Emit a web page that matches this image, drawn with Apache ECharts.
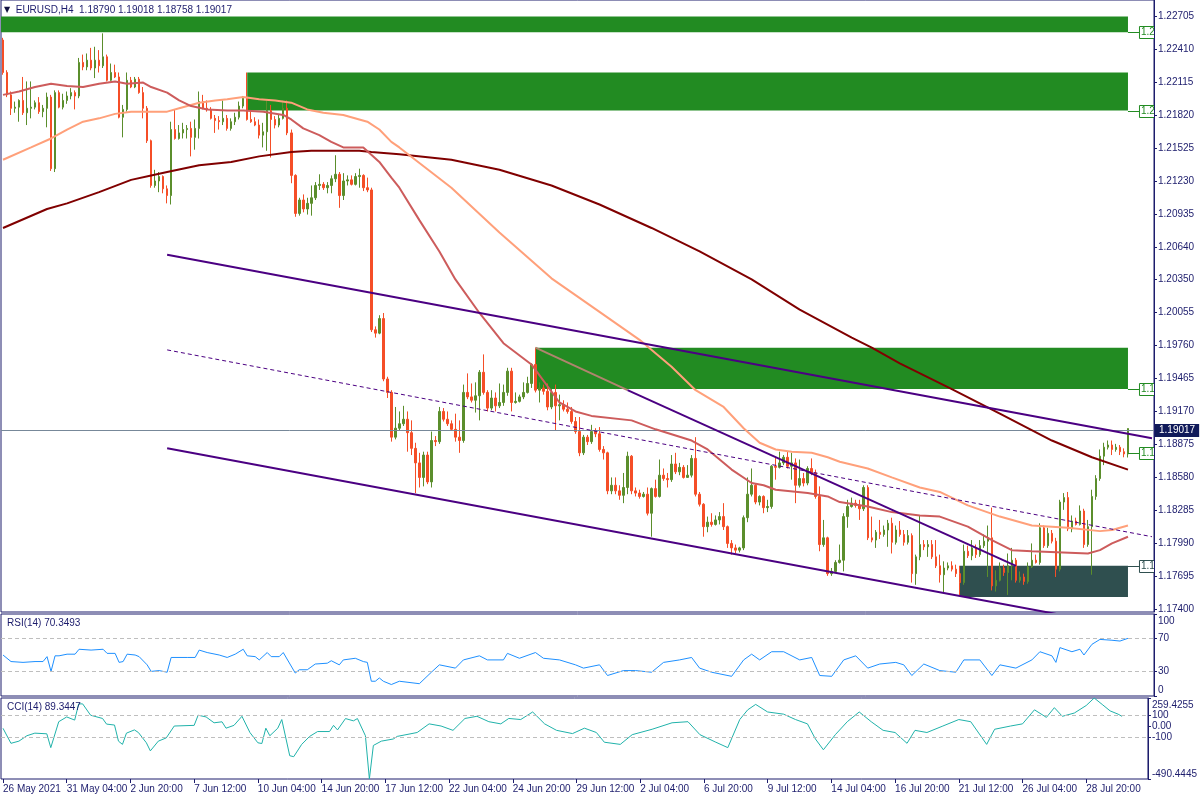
<!DOCTYPE html>
<html><head><meta charset="utf-8">
<script src="https://cdn.jsdelivr.net/npm/echarts@6/dist/echarts.min.js"></script>
<style>html,body{margin:0;padding:0;background:#fff}#c{width:1200px;height:800px}</style>
</head><body><div id="c"></div><script>
// ---------------- DATA ----------------
const symbolName = 'EURUSD,H4';
const tickLabels = ['26 May 2021','31 May 04:00','2 Jun 20:00','7 Jun 12:00','10 Jun 04:00','14 Jun 20:00','17 Jun 12:00','22 Jun 04:00','24 Jun 20:00','29 Jun 12:00','2 Jul 04:00','6 Jul 20:00','9 Jul 12:00','14 Jul 04:00','16 Jul 20:00','21 Jul 12:00','26 Jul 04:00','28 Jul 20:00'];
const priceTicks = [1.22705,1.22410,1.22115,1.21820,1.21525,1.21230,1.20935,1.20640,1.20350,1.20055,1.19760,1.19465,1.19170,1.18875,1.18580,1.18285,1.17990,1.17695,1.17400];

const opens = [
1.2249,1.2220,1.2200,1.2188,1.2189,1.2195,1.2184,1.2188,1.2189,1.2193,
1.2185,1.2188,1.2198,1.2134,1.2202,1.2189,1.2195,1.2199,1.2202,1.2199,
1.2229,1.2225,1.2231,1.2224,1.2231,1.2226,1.2234,1.2213,1.2220,1.2216,
1.2180,1.2187,1.2213,1.2207,1.2214,1.2202,1.2188,1.2159,1.2119,1.2123,
1.2127,1.2116,1.2110,1.2169,1.2161,1.2166,1.2169,1.2170,1.2162,1.2170,
1.2194,1.2188,1.2187,1.2179,1.2177,1.2176,1.2179,1.2170,1.2176,1.2180,
1.2190,1.2197,1.2178,1.2176,1.2173,1.2164,1.2167,1.2186,1.2178,1.2173,
1.2179,1.2188,1.2166,1.2128,1.2094,1.2106,1.2098,1.2103,1.2108,1.2119,
1.2120,1.2117,1.2119,1.2125,1.2129,1.2110,1.2123,1.2124,1.2120,1.2127,
1.2128,1.2117,1.2115,1.1990,1.1987,1.2000,1.1946,1.1934,1.1894,1.1902,
1.1906,1.1910,1.1898,1.1884,1.1871,1.1858,1.1878,1.1854,1.1891,1.1890,
1.1917,1.1910,1.1906,1.1901,1.1894,1.1891,1.1934,1.1930,1.1927,1.1931,
1.1952,1.1934,1.1920,1.1929,1.1922,1.1925,1.1934,1.1953,1.1925,1.1926,
1.1930,1.1934,1.1942,1.1959,1.1936,1.1938,1.1935,1.1921,1.1934,1.1922,
1.1923,1.1919,1.1917,1.1908,1.1899,1.1880,1.1894,1.1890,1.1899,1.1897,
1.1883,1.1880,1.1846,1.1851,1.1846,1.1842,1.1849,1.1877,1.1846,1.1844,
1.1841,1.1843,1.1826,1.1848,1.1841,1.1860,1.1857,1.1856,1.1870,1.1863,
1.1867,1.1858,1.1860,1.1875,1.1843,1.1834,1.1814,1.1818,1.1816,1.1820,
1.1823,1.1814,1.1799,1.1795,1.1793,1.1795,1.1822,1.1843,1.1851,1.1836,
1.1841,1.1831,1.1832,1.1868,1.1867,1.1871,1.1876,1.1868,1.1871,1.1851,
1.1857,1.1853,1.1866,1.1862,1.1841,1.1798,1.1804,1.1772,1.1774,1.1782,
1.1784,1.1823,1.1832,1.1835,1.1833,1.1830,1.1849,1.1804,1.1802,1.1809,
1.1807,1.1811,1.1817,1.1800,1.1811,1.1807,1.1800,1.1806,1.1772,1.1787,
1.1798,1.1796,1.1798,1.1787,1.1779,1.1771,1.1777,1.1779,1.1776,1.1772,
1.1764,1.1792,1.1788,1.1795,1.1789,1.1797,1.1801,1.1804,1.1761,1.1766,
1.1777,1.1773,1.1779,1.1784,1.1766,1.1769,1.1765,1.1778,1.1784,1.1782,
1.1813,1.1797,1.1808,1.1801,1.1776,1.1836,1.1840,1.1812,1.1819,1.1816,
1.1828,1.1798,1.1814,1.1841,1.1857,1.1877,1.1885,1.1887,1.1883,1.1885,
1.1881,1.18790];
const highs = [
1.2251,1.2222,1.2203,1.2194,1.2196,1.2216,1.2212,1.2212,1.2195,1.2198,
1.2191,1.2202,1.2200,1.2204,1.2204,1.2201,1.2203,1.2206,1.2204,1.2233,
1.2236,1.2237,1.2242,1.2243,1.2240,1.2255,1.2236,1.2228,1.2227,1.2220,
1.2191,1.2220,1.2216,1.2216,1.2216,1.2207,1.2190,1.2160,1.2133,1.2131,
1.2128,1.2119,1.2176,1.2187,1.2173,1.2175,1.2173,1.2176,1.2178,1.2203,
1.2200,1.2195,1.2189,1.2182,1.2181,1.2195,1.2182,1.2179,1.2184,1.2194,
1.2199,1.2220,1.2185,1.2180,1.2178,1.2175,1.2195,1.2191,1.2181,1.2182,
1.2195,1.2195,1.2169,1.2129,1.2108,1.2111,1.2108,1.2119,1.2122,1.2129,
1.2122,1.2122,1.2128,1.2146,1.2131,1.2130,1.2128,1.2128,1.2130,1.2134,
1.2129,1.2126,1.2117,1.1993,1.2003,1.2005,1.1948,1.1936,1.1921,1.1917,
1.1922,1.1917,1.1909,1.1889,1.1880,1.1881,1.1881,1.1899,1.1895,1.1921,
1.1920,1.1917,1.1909,1.1915,1.1909,1.1941,1.1951,1.1942,1.1943,1.1954,
1.1968,1.1936,1.1936,1.1934,1.1942,1.1941,1.1956,1.1956,1.1934,1.1932,
1.1943,1.1948,1.1960,1.1974,1.1943,1.1941,1.1942,1.1937,1.1941,1.1932,
1.1927,1.1925,1.1921,1.1912,1.1912,1.1896,1.1896,1.1905,1.1902,1.1903,
1.1886,1.1881,1.1858,1.1858,1.1851,1.1862,1.1881,1.1878,1.1849,1.1847,
1.1845,1.1849,1.1849,1.1856,1.1874,1.1866,1.1862,1.1878,1.1880,1.1871,
1.1869,1.1869,1.1878,1.1894,1.1845,1.1835,1.1823,1.1826,1.1824,1.1827,
1.1835,1.1815,1.1802,1.1798,1.1796,1.1824,1.1858,1.1866,1.1853,1.1842,
1.1842,1.1838,1.1869,1.1876,1.1881,1.1878,1.1881,1.1880,1.1875,1.1874,
1.1862,1.1868,1.1875,1.1865,1.1850,1.1820,1.1805,1.1777,1.1784,1.1798,
1.1826,1.1838,1.1840,1.1838,1.1838,1.1851,1.1851,1.1823,1.1811,1.1820,
1.1815,1.1820,1.1822,1.1815,1.1819,1.1811,1.1811,1.1808,1.1789,1.1824,
1.1802,1.1802,1.1802,1.1802,1.1789,1.1783,1.1782,1.1783,1.1780,1.1779,
1.1798,1.1797,1.1802,1.1798,1.1802,1.1807,1.1815,1.1831,1.1775,1.1782,
1.1780,1.1790,1.1795,1.1786,1.1774,1.1772,1.1782,1.1799,1.1789,1.1817,
1.1815,1.1813,1.1811,1.1804,1.1838,1.1844,1.1845,1.1824,1.1822,1.1833,
1.1830,1.1820,1.1847,1.1860,1.1883,1.1889,1.1891,1.1891,1.1888,1.1887,
1.1884,1.19018];
const lows = [
1.2218,1.2198,1.2182,1.2184,1.2176,1.2182,1.2173,1.2179,1.2187,1.2183,
1.2180,1.2171,1.2132,1.2131,1.2188,1.2187,1.2192,1.2196,1.2187,1.2197,
1.2222,1.2222,1.2222,1.2215,1.2220,1.2224,1.2212,1.2212,1.2215,1.2179,
1.2162,1.2185,1.2206,1.2206,1.2201,1.2179,1.2157,1.2117,1.2117,1.2113,
1.2112,1.2103,1.2102,1.2160,1.2160,1.2161,1.2161,1.2145,1.2151,1.2161,
1.2187,1.2185,1.2178,1.2166,1.2169,1.2173,1.2168,1.2168,1.2173,1.2178,
1.2188,1.2177,1.2175,1.2172,1.2161,1.2153,1.2150,1.2144,1.2170,1.2171,
1.2178,1.2164,1.2121,1.2091,1.2092,1.2095,1.2093,1.2092,1.2106,1.2115,
1.2115,1.2112,1.2112,1.2122,1.2099,1.2106,1.2119,1.2119,1.2119,1.2117,
1.2114,1.2113,1.1988,1.1983,1.1986,1.1944,1.1929,1.1890,1.1892,1.1900,
1.1904,1.1881,1.1878,1.1844,1.1849,1.1850,1.1852,1.1849,1.1886,1.1888,
1.1908,1.1904,1.1900,1.1890,1.1880,1.1889,1.1928,1.1925,1.1916,1.1909,
1.1932,1.1917,1.1918,1.1917,1.1920,1.1922,1.1931,1.1917,1.1924,1.1925,
1.1928,1.1933,1.1938,1.1934,1.1925,1.1932,1.1918,1.1919,1.1900,1.1909,
1.1917,1.1915,1.1906,1.1897,1.1877,1.1878,1.1887,1.1888,1.1894,1.1881,
1.1874,1.1843,1.1843,1.1843,1.1838,1.1835,1.1843,1.1843,1.1841,1.1839,
1.1840,1.1824,1.1805,1.1840,1.1840,1.1855,1.1849,1.1854,1.1861,1.1860,
1.1857,1.1858,1.1858,1.1841,1.1832,1.1805,1.1809,1.1814,1.1815,1.1816,
1.1811,1.1795,1.1789,1.1790,1.1791,1.1793,1.1818,1.1841,1.1834,1.1833,
1.1826,1.1827,1.1830,1.1856,1.1866,1.1869,1.1866,1.1856,1.1835,1.1849,
1.1850,1.1851,1.1860,1.1839,1.1792,1.1796,1.1770,1.1770,1.1773,1.1781,
1.1774,1.1813,1.1831,1.1831,1.1820,1.1828,1.1802,1.1800,1.1795,1.1803,
1.1805,1.1796,1.1790,1.1798,1.1805,1.1797,1.1798,1.1764,1.1762,1.1784,
1.1793,1.1787,1.1785,1.1777,1.1764,1.1755,1.1775,1.1774,1.1769,1.1752,
1.1762,1.1786,1.1784,1.1786,1.1787,1.1795,1.1769,1.1757,1.1756,1.1765,
1.1770,1.1753,1.1766,1.1764,1.1764,1.1762,1.1763,1.1777,1.1781,1.1780,
1.1795,1.1795,1.1799,1.1769,1.1774,1.1829,1.1810,1.1809,1.1815,1.1815,
1.1795,1.1796,1.1771,1.1838,1.1855,1.1869,1.1883,1.1878,1.1881,1.1878,
1.1876,1.18758];
const closes = [
1.2220,1.2200,1.2188,1.2189,1.2195,1.2184,1.2188,1.2189,1.2193,1.2185,
1.2188,1.2198,1.2134,1.2202,1.2189,1.2195,1.2199,1.2202,1.2199,1.2229,
1.2225,1.2231,1.2224,1.2231,1.2226,1.2234,1.2213,1.2220,1.2216,1.2180,
1.2187,1.2213,1.2207,1.2214,1.2202,1.2188,1.2159,1.2119,1.2123,1.2127,
1.2116,1.2110,1.2169,1.2161,1.2166,1.2169,1.2170,1.2162,1.2170,1.2194,
1.2188,1.2187,1.2179,1.2177,1.2176,1.2179,1.2170,1.2176,1.2180,1.2190,
1.2197,1.2178,1.2176,1.2173,1.2164,1.2167,1.2186,1.2178,1.2173,1.2179,
1.2188,1.2166,1.2128,1.2094,1.2106,1.2098,1.2103,1.2108,1.2119,1.2120,
1.2117,1.2119,1.2125,1.2129,1.2110,1.2123,1.2124,1.2120,1.2127,1.2128,
1.2117,1.2115,1.1990,1.1987,1.2000,1.1946,1.1934,1.1894,1.1902,1.1906,
1.1910,1.1898,1.1884,1.1871,1.1858,1.1878,1.1854,1.1891,1.1890,1.1917,
1.1910,1.1906,1.1901,1.1894,1.1891,1.1934,1.1930,1.1927,1.1931,1.1952,
1.1934,1.1920,1.1929,1.1922,1.1925,1.1934,1.1953,1.1925,1.1926,1.1930,
1.1934,1.1942,1.1959,1.1936,1.1938,1.1935,1.1921,1.1934,1.1922,1.1923,
1.1919,1.1917,1.1908,1.1899,1.1880,1.1894,1.1890,1.1899,1.1897,1.1883,
1.1880,1.1846,1.1851,1.1846,1.1842,1.1849,1.1877,1.1846,1.1844,1.1841,
1.1843,1.1826,1.1848,1.1841,1.1860,1.1857,1.1856,1.1870,1.1863,1.1867,
1.1858,1.1860,1.1875,1.1843,1.1834,1.1814,1.1818,1.1816,1.1820,1.1823,
1.1814,1.1799,1.1795,1.1793,1.1795,1.1822,1.1843,1.1851,1.1836,1.1841,
1.1831,1.1832,1.1868,1.1867,1.1871,1.1876,1.1868,1.1871,1.1851,1.1857,
1.1853,1.1866,1.1862,1.1841,1.1798,1.1804,1.1772,1.1774,1.1782,1.1784,
1.1823,1.1832,1.1835,1.1833,1.1830,1.1849,1.1804,1.1802,1.1809,1.1807,
1.1811,1.1817,1.1800,1.1811,1.1807,1.1800,1.1806,1.1772,1.1787,1.1798,
1.1796,1.1798,1.1787,1.1779,1.1771,1.1777,1.1779,1.1776,1.1772,1.1764,
1.1792,1.1788,1.1795,1.1789,1.1797,1.1801,1.1804,1.1761,1.1766,1.1777,
1.1773,1.1779,1.1784,1.1766,1.1769,1.1765,1.1778,1.1784,1.1782,1.1813,
1.1797,1.1808,1.1801,1.1776,1.1836,1.1840,1.1812,1.1819,1.1816,1.1828,
1.1798,1.1814,1.1841,1.1857,1.1877,1.1885,1.1887,1.1883,1.1885,1.1881,
1.1879,1.19017];

// moving averages: [bar index, price]
const maFast = [[0,1.2200],[4,1.2203],[8,1.2207],[12,1.2210],[16,1.2208],[20,1.2207],[24,1.2210],[28,1.2212],[31,1.2210],[35,1.2211],[37,1.2207],[41,1.2202],[44,1.2195],[47,1.2190],[51,1.2187],[56,1.2186],[60,1.2186],[65,1.2185],[70,1.2182],[72,1.2178],[75,1.2170],[79,1.2164],[82,1.2158],[85,1.2153],[90,1.2153],[94,1.2140],[97,1.2126],[99,1.2117],[104,1.2088],[109,1.2060],[113,1.2035],[119,1.2005],[125,1.1978],[132,1.1959],[139,1.1925],[143,1.1917],[147,1.1913],[157,1.1909],[163,1.1901],[172,1.1891],[176,1.1883],[182,1.1865],[187,1.1853],[190,1.1851],[193,1.1847],[201,1.1844],[206,1.1841],[209,1.1836],[216,1.1832],[222,1.1827],[229,1.1824],[234,1.1823],[241,1.1814],[247,1.1802],[252,1.1793],[257,1.1792],[271,1.1790],[274,1.1793],[277,1.1799],[281,1.1805]];
const maMid = [[0,1.2142],[7,1.2153],[12,1.2161],[16,1.2169],[20,1.2176],[24,1.2179],[28,1.2183],[32,1.2185],[41,1.2185],[44,1.2188],[49,1.2193],[53,1.2195],[56,1.2196],[60,1.2198],[64,1.2196],[68,1.2195],[72,1.2193],[76,1.2187],[80,1.2184],[85,1.2182],[89,1.2178],[91,1.2176],[94,1.2169],[97,1.2158],[99,1.2153],[112,1.2117],[124,1.2077],[137,1.2036],[149,1.2006],[159,1.1981],[167,1.1957],[173,1.1936],[180,1.1921],[185,1.1902],[189,1.1889],[193,1.1883],[197,1.1881],[202,1.1880],[206,1.1876],[209,1.1872],[216,1.1866],[222,1.1858],[229,1.1849],[234,1.1845],[241,1.1833],[249,1.1823],[257,1.1815],[266,1.1813],[274,1.1810],[277,1.1811],[281,1.1815]];
const maSlow = [[0,1.2081],[11,1.2098],[16,1.2103],[24,1.2113],[32,1.2124],[37,1.2128],[41,1.2131],[49,1.2137],[57,1.2140],[64,1.2145],[72,1.2149],[77,1.2150],[89,1.2150],[92,1.2149],[99,1.2147],[112,1.2142],[124,1.2133],[137,1.2119],[149,1.2102],[162,1.2081],[174,1.2060],[187,1.2035],[199,1.2008],[212,1.1983],[217,1.1974],[224,1.1960],[237,1.1937],[249,1.1915],[262,1.1891],[272,1.1876],[281,1.1865]];

// trend / channel lines: [bar index, price] end points
const channelUpper = [[41,1.2057],[287,1.1893]];
const channelMid = [[41,1.1972],[287,1.1805]];
const channelLower = [[41,1.1884],[287,1.1720]];
const trendInZone = [[133,1.1974],[156,1.1936]];
const trendLine = [[156,1.1936],[253,1.1779]];

// zones: [startBar, endBar, topPrice, bottomPrice]
const zones = [[0,281,1.2270,1.2256],[61,281,1.2220,1.2186],[133,281,1.1974,1.1937],[239,281,1.1779,1.1751]];
const zoneLabelPrices = [1.2256,1.2186,1.1937,1.1779,1.1880];

// oscillators: [bar index, value]
const rsiPoints = [[0,50],[2,42],[5,41],[8,42],[10,42],[11,48],[12,30],[13,49],[14,49],[16,51],[18,51],[19,57],[22,56],[25,57],[26,52],[28,52],[29,41],[30,42],[31,51],[33,50],[34,48],[36,38],[37,30],[39,31],[40,30],[41,29],[42,47],[46,47],[48,47],[49,56],[51,53],[54,50],[56,47],[58,51],[60,57],[61,49],[63,48],[64,44],[66,53],[67,48],[69,48],[70,53],[73,28],[74,32],[76,32],[78,39],[81,40],[82,43],[84,38],[85,44],[88,46],[90,42],[91,41],[92,18],[93,18],[94,22],[95,18],[97,14],[99,18],[104,15],[107,29],[109,38],[113,34],[115,44],[119,49],[121,44],[125,44],[126,52],[129,46],[133,53],[135,46],[139,44],[143,38],[145,34],[149,38],[151,25],[155,31],[158,31],[162,29],[165,41],[169,44],[172,47],[174,34],[177,29],[182,24],[185,44],[187,51],[189,44],[192,54],[195,54],[199,44],[202,47],[204,25],[207,24],[210,44],[213,49],[216,34],[219,39],[223,41],[225,38],[227,25],[230,39],[234,31],[238,29],[240,44],[244,44],[247,25],[249,38],[253,34],[257,44],[259,54],[262,49],[263,41],[264,59],[267,54],[269,57],[270,50],[272,63],[274,69],[277,68],[279,67],[281,70.3493]];
const cciPoints = [[0,-21],[2,-160],[4,-140],[6,-90],[8,-66],[11,-72],[12,-200],[14,40],[16,84],[18,55],[19,205],[20,205],[22,100],[25,70],[26,18],[28,9],[29,-140],[30,-170],[31,-66],[33,-36],[34,-60],[36,-155],[37,-230],[39,-140],[41,-110],[43,0],[48,6],[49,100],[51,84],[53,30],[55,39],[56,-20],[58,6],[60,90],[62,-60],[64,-155],[65,-162],[66,-20],[67,-90],[69,-20],[70,60],[72,-275],[73,-284],[75,-170],[77,-96],[79,-51],[82,-51],[83,6],[84,-36],[86,69],[88,48],[89,69],[91,-90],[92,-490.4445],[93,-180],[95,-140],[98,-120],[99,-96],[104,-60],[107,20],[110,0],[113,-40],[116,70],[119,90],[122,40],[125,20],[127,70],[130,60],[133,130],[136,20],[139,-40],[143,-70],[146,-20],[149,-60],[151,-150],[155,-170],[158,-80],[163,-30],[168,30],[172,40],[175,-80],[179,-150],[182,-200],[185,60],[187,150],[189,200],[192,130],[196,110],[199,60],[202,20],[204,-120],[206,-220],[209,-80],[212,40],[215,130],[218,40],[221,-40],[224,-60],[227,-160],[229,-40],[232,-60],[236,0],[240,60],[243,40],[247,-170],[249,-30],[253,0],[256,20],[259,150],[262,80],[264,170],[266,90],[269,120],[272,190],[274,259.4255],[276,200],[278,140],[280,110],[281,89.3447]];
const rsiLevels = [30, 70];
const rsiTicks = [0, 30, 70, 100];
const cciLevels = [-100, 100];
const cciMin = -490.4445, cciMax = 259.4255;
const cciTicks = [cciMin, -100, 0, 100, cciMax];

// ---------------- CHART ----------------
const FONT = "'Liberation Sans', Arial, sans-serif";
const NAVY = '#1c1c6c';
const BULL = '#5B8E2C', BEAR = '#F54E27';
const zoneColors = ['#228B22','#228B22','#228B22','#2F4F4F'];
const zoneLabelColors = ['#228B22','#228B22','#228B22','#2F4F4F','#228B22'];
const slots = 288; // bars plus empty chart shift on the right
const categories = Array.from({length: slots}, (_, i) => String(i));
const last = closes.length - 1;
const candleData = closes.map((c, i) => [opens[i], c, lows[i], highs[i]]);
const f5 = v => v.toFixed(5);
const rsiLast = rsiPoints[rsiPoints.length - 1][1];
const cciLast = cciPoints[cciPoints.length - 1][1];

const chart = echarts.init(document.getElementById('c'), null, {renderer: 'canvas'});
const xBase = (gi, show) => ({
  type: 'category', gridIndex: gi, data: categories, boundaryGap: true,
  axisLine: {show: false, onZero: false}, splitLine: {show: false},
  axisTick: show ? {show: true, interval: 15, alignWithLabel: true, length: 4, lineStyle: {color: NAVY}} : {show: false},
  axisLabel: show ? {show: true, interval: 15, align: 'left', color: NAVY, fontSize: 10, fontFamily: FONT, margin: 5,
    formatter: (v, idx) => tickLabels[idx / 16] || ''} : {show: false}
});
const lineS = (data, color, width, z, extra) => Object.assign({
  type: 'line', data, xAxisIndex: 0, yAxisIndex: 0, symbol: 'none', silent: true, z,
  lineStyle: {color, width}, animation: false
}, extra || {});

const option = {
  animation: false,
  backgroundColor: '#ffffff',
  title: [
    {text: '{t|▼}  ' + symbolName + '  ' + f5(opens[last]) + ' ' + f5(highs[last]) + ' ' + f5(lows[last]) + ' ' + f5(closes[last]),
     left: 4, top: 5, padding: 0,
     textStyle: {fontSize: 10, fontWeight: 'normal', color: NAVY, fontFamily: FONT,
       rich: {t: {fontSize: 8, color: '#101040', fontFamily: 'DejaVu Sans'}}}},
    {text: 'RSI(14) ' + rsiLast.toFixed(4), left: 7, top: 618, padding: 0,
     textStyle: {fontSize: 10, fontWeight: 'normal', color: NAVY, fontFamily: FONT}},
    {text: 'CCI(14) ' + cciLast.toFixed(4), left: 7, top: 702, padding: 0,
     textStyle: {fontSize: 10, fontWeight: 'normal', color: NAVY, fontFamily: FONT}}
  ],
  grid: [
    {left: 1, right: 46, top: 0, height: 612, show: true, borderColor: NAVY, borderWidth: 1, backgroundColor: 'transparent'},
    {left: 1, right: 46, top: 614, height: 82, show: true, borderColor: NAVY, borderWidth: 1, backgroundColor: 'transparent'},
    {left: 1, right: 46, top: 698, height: 81, show: true, borderColor: NAVY, borderWidth: 1, backgroundColor: 'transparent'}
  ],
  xAxis: [xBase(0, false), xBase(1, false), xBase(2, true)],
  yAxis: [
    {type: 'value', gridIndex: 0, position: 'right', min: 1.17377, max: 1.22848, scale: true,
     splitLine: {show: false}, axisLine: {show: true, onZero: false, lineStyle: {color: NAVY}},
     axisTick: {show: true, length: 3, customValues: priceTicks, lineStyle: {color: NAVY}},
     axisLabel: {customValues: priceTicks, formatter: v => v.toFixed(5), color: NAVY, fontSize: 10, fontFamily: FONT, margin: 4}},
    {type: 'value', gridIndex: 1, position: 'right', min: 0, max: 100,
     splitLine: {show: false}, axisLine: {show: true, onZero: false, lineStyle: {color: NAVY}},
     axisTick: {show: true, length: 3, customValues: rsiTicks, lineStyle: {color: NAVY}},
     axisLabel: {customValues: rsiTicks, color: NAVY, fontSize: 10, fontFamily: FONT, margin: 4,
       formatter: v => v === 100 ? '{a|100}' : (v === 0 ? '{b|0}' : String(v)),
       rich: {a: {padding: [14, 0, 0, 0], color: NAVY, fontSize: 10, fontFamily: FONT},
              b: {padding: [0, 0, 12, 0], color: NAVY, fontSize: 10, fontFamily: FONT}}}},
    {type: 'value', gridIndex: 2, position: 'right', min: cciMin, max: cciMax,
     splitLine: {show: false}, axisLine: {show: true, onZero: false, lineStyle: {color: NAVY}},
     axisTick: {show: true, length: 3, customValues: cciTicks, lineStyle: {color: NAVY}},
     axisLabel: {customValues: cciTicks, color: NAVY, fontSize: 10, fontFamily: FONT, margin: 4,
       formatter: v => v === cciMax ? '{a|' + v.toFixed(4) + '}' : (v === cciMin ? '{b|' + v.toFixed(4) + '}' : (v === 0 ? '0.00' : String(v))),
       rich: {a: {padding: [14, 0, 0, 0], color: NAVY, fontSize: 10, fontFamily: FONT},
              b: {padding: [0, 0, 10, 0], color: NAVY, fontSize: 10, fontFamily: FONT}}}}
  ],
  series: [
    {type: 'custom', name: 'zones', xAxisIndex: 0, yAxisIndex: 0, z: 1, silent: true, clip: true,
     data: zones, encode: {x: [0, 1], y: [2, 3]},
     renderItem: (params, api) => {
       const a = api.coord([api.value(0), api.value(2)]);
       const b = api.coord([api.value(1), api.value(3)]);
       const x0 = params.dataIndex === 0 ? params.coordSys.x : a[0];
       return {type: 'rect', shape: {x: x0, y: a[1], width: b[0] - x0, height: b[1] - a[1]},
               style: {fill: zoneColors[params.dataIndex]}};
     }},
    {type: 'candlestick', name: 'EURUSD', xAxisIndex: 0, yAxisIndex: 0, z: 3, data: candleData,
     barWidth: 2, silent: true,
     itemStyle: {color: BULL, color0: BEAR, borderColor: BULL, borderColor0: BEAR, borderWidth: 1},
     markLine: {symbol: 'none', silent: true, animation: false,
       data: [{yAxis: closes[last]}],
       lineStyle: {color: '#778899', width: 1, type: 'solid'},
       label: {show: true, position: 'end', distance: 1, formatter: () => f5(closes[last]),
         backgroundColor: '#101a5a', color: '#ffffff', padding: [2, 4, 1, 4], fontSize: 10, fontFamily: FONT}}},
    lineS(maSlow, '#800000', 2, 5),
    lineS(maMid, '#FFA07A', 2, 5),
    lineS(maFast, '#CD5C5C', 2, 5),
    lineS(channelUpper, '#4B0082', 2, 6),
    lineS(channelLower, '#4B0082', 2, 6),
    lineS(channelMid, '#4B0082', 1, 6, {lineStyle: {color: '#4B0082', width: 1, type: [4, 3]}}),
    lineS(trendInZone, '#B0846E', 2, 6),
    lineS(trendLine, '#4B0082', 2, 6),
    {type: 'custom', name: 'zoneLabels', xAxisIndex: 0, yAxisIndex: 0, z: 7, silent: true, clip: true,
     data: zoneLabelPrices.map(p => [last, p]), encode: {x: 0, y: 1},
     renderItem: (params, api) => {
       const p = api.coord([api.value(0), api.value(1)]);
       const col = zoneLabelColors[params.dataIndex];
       const x = p[0], y = Math.round(p[1]) + 0.5;
       return {type: 'group', children: [
         {type: 'line', shape: {x1: x, y1: y, x2: x + 11, y2: y}, style: {stroke: col, lineWidth: 1}},
         {type: 'rect', shape: {x: x + 11.5, y: y - 6, width: 40, height: 12}, style: {fill: '#ffffff', stroke: col, lineWidth: 1}},
         {type: 'text', x: x + 13, y: y, style: {text: f5(api.value(1)), fill: col, font: '10px ' + FONT, verticalAlign: 'middle'}}
       ]};
     }},
    {type: 'line', name: 'RSI', xAxisIndex: 1, yAxisIndex: 1, data: rsiPoints, symbol: 'none', silent: true,
     lineStyle: {color: '#1E90FF', width: 1}, z: 3,
     markLine: {symbol: 'none', silent: true, label: {show: false}, animation: false,
       lineStyle: {color: '#BEBEBE', type: [4, 3], width: 1}, data: rsiLevels.map(v => ({yAxis: v}))}},
    {type: 'line', name: 'CCI', xAxisIndex: 2, yAxisIndex: 2, data: cciPoints, symbol: 'none', silent: true,
     lineStyle: {color: '#20B2AA', width: 1}, z: 3,
     markLine: {symbol: 'none', silent: true, label: {show: false}, animation: false,
       lineStyle: {color: '#BEBEBE', type: [4, 3], width: 1}, data: cciLevels.map(v => ({yAxis: v}))}}
  ]
};
chart.setOption(option);
</script></body></html>
